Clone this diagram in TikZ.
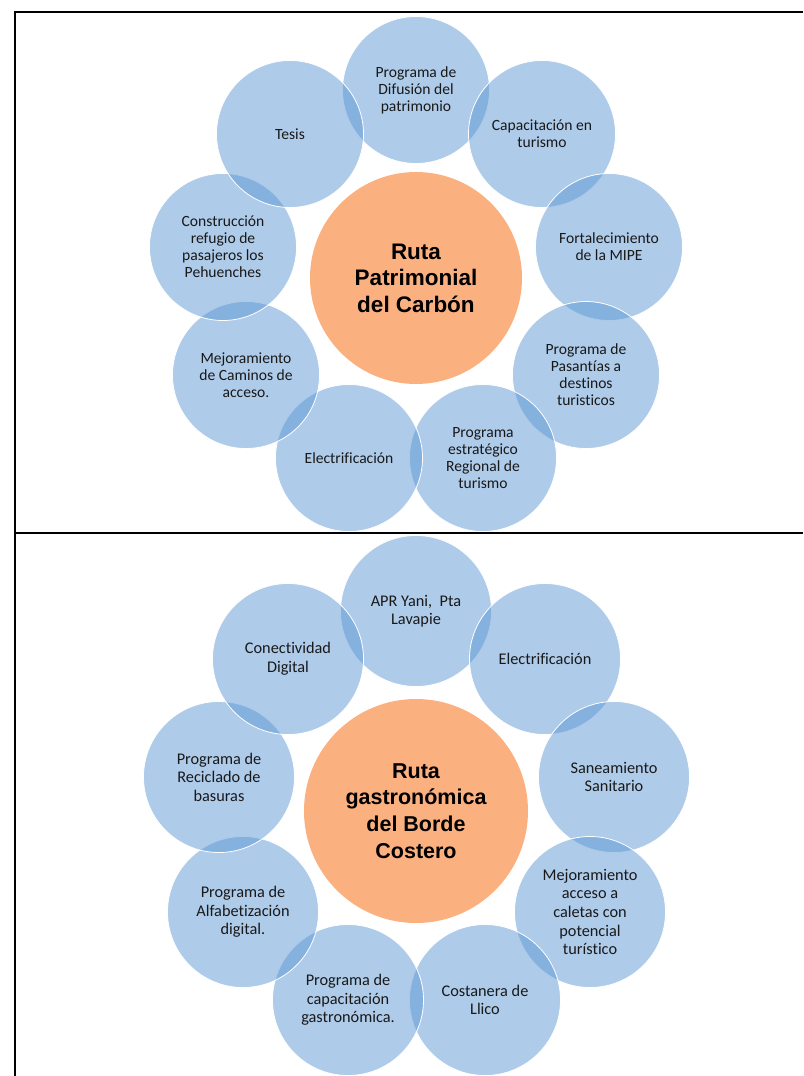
\documentclass[tikz,border=0pt]{standalone}
\usepackage{fontspec}
\setmainfont{Carlito}[Ligatures=NoCommon]
\newfontfamily\rutafont{Liberation Sans}
\definecolor{circazul}{RGB}{93,151,211}
\definecolor{circnaranja}{RGB}{251,177,127}
\begin{document}
\begin{tikzpicture}[x=1pt,y=-1pt,
  %%Configuración
  proyecto/.style = {circle, fill=circazul, fill opacity=0.5, text opacity=1,
    draw=white, line width=0.8pt, text=black!90, align=center, inner sep=0pt,
    minimum size=147pt, font=\fontsize{15.6}{17}\selectfont},
  proyecto2/.style = {proyecto, minimum size=151pt,
    font=\fontsize{16.3}{18.6}\selectfont},
  ruta/.style = {circle, fill=circnaranja, text=black, align=center, inner sep=0pt,
    minimum size=212pt, font=\rutafont\bfseries\fontsize{22.5}{26.5}\selectfont},
  ruta2/.style = {ruta, minimum size=224pt,
    font=\rutafont\bfseries\fontsize{21.5}{26.7}\selectfont},
  marco/.style = {line width=2pt, black}
  ]
  \useasboundingbox (0,0) rectangle (803,1076);
  %%Marco
  \draw[marco] (803,12) -- (15,12) -- (15,1076);
  \draw[marco] (15,533) -- (803,533);

  %%Ruta del Carbón
  \node [ruta] (carbon) at (416,278) {Ruta\\Patrimonial\\del Carbón};
  \node [proyecto] (difusion) at (416,90) {Programa de\\Difusión del\\patrimonio};
  \node [proyecto] (capacitacion) at (542,134) {Capacitación en\\turismo};
  \node [proyecto] (mipe) at (609,247) {Fortalecimiento\\de la MIPE};
  \node [proyecto] (pasantias) at (586,375) {Programa de\\Pasantías a\\destinos\\turisticos};
  \node [proyecto] (estrategico) at (483,458) {Programa\\estratégico\\Regional de\\turismo};
  \node [proyecto] (electrif) at (349,458) {Electrificación};
  \node [proyecto] (caminos) at (246,375) {Mejoramiento\\de Caminos de\\acceso.};
  \node [proyecto] (refugio) at (223,247) {Construcción\\refugio de\\pasajeros los\\Pehuenches};
  \node [proyecto] (tesis) at (290,134) {Tesis};

  %%Ruta gastronómica
  \node [ruta2] (gastro) at (416,811) {Ruta\\gastronómica\\del Borde\\Costero};
  \node [proyecto2] (apr) at (416,611) {APR Yani,\ \ Pta\\Lavapie};
  \node [proyecto2] (electrif2) at (545,659) {Electrificación};
  \node [proyecto2] (saneamiento) at (614,777) {Saneamiento\\Sanitario};
  \node [proyecto2] (caletas) at (590,912) {Mejoramiento\\acceso a\\caletas con\\potencial\\turístico};
  \node [proyecto2] (costanera) at (485,1000) {Costanera de\\Llico};
  \node [proyecto2] (capgastro) at (348,1000) {Programa de\\capacitación\\gastronómica.};
  \node [proyecto2] (alfabet) at (243,912) {Programa de\\Alfabetización\\digital.};
  \node [proyecto2] (reciclado) at (219,777) {Programa de\\Reciclado de\\basuras};
  \node [proyecto2] (conectividad) at (288,659) {Conectividad\\Digital};
\end{tikzpicture}
\end{document}
